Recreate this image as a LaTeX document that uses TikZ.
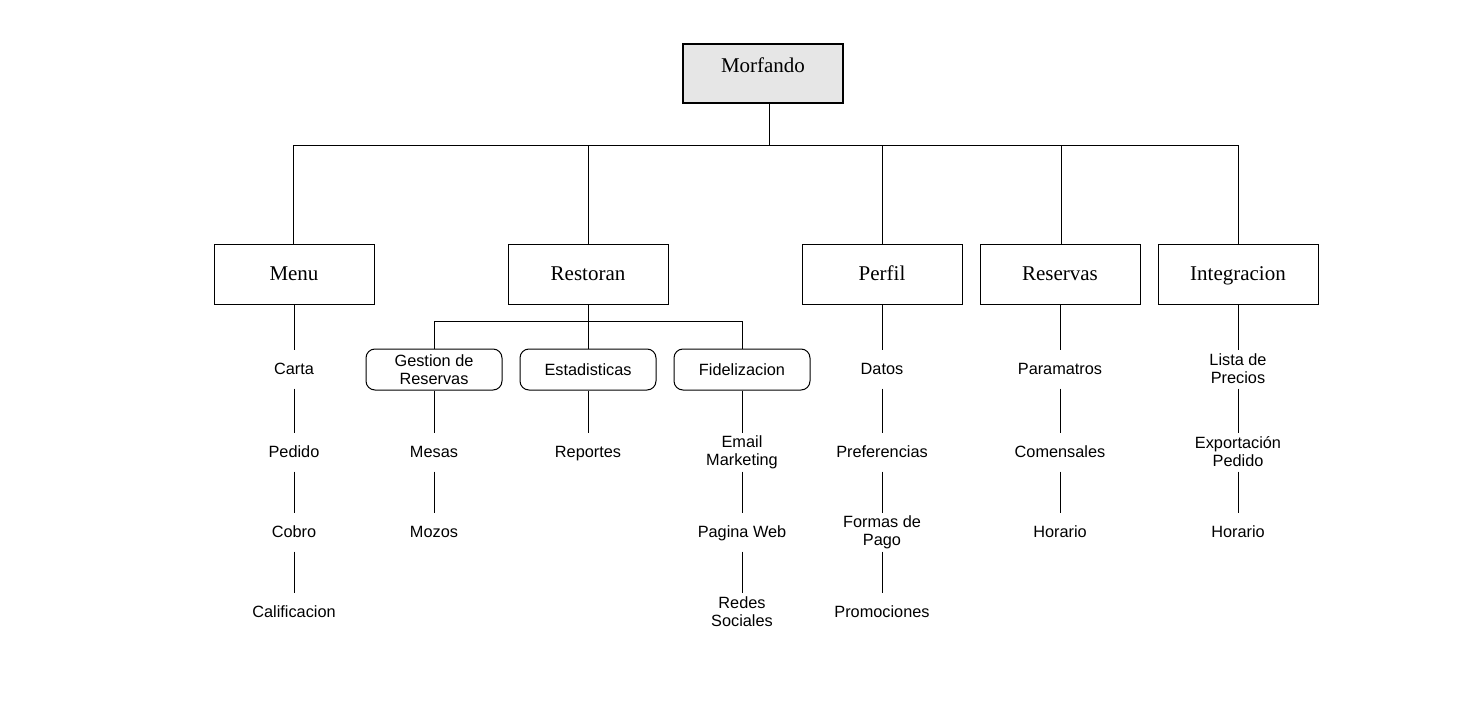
\documentclass[tikz,border=0pt]{standalone}
\usepackage{fontspec}
\setmainfont{Liberation Sans}
\newfontfamily\morffont{Liberation Serif}
\begin{document}
\begin{tikzpicture}[x=1pt,y=-1pt,
  line width=1pt,
  rootbox/.style={draw, line width=2pt, fill=rootgray, minimum width=160pt,
    inner ysep=0pt, text height=28.5pt, text depth=30.5pt, font=\morffont\fontsize{21}{23}\selectfont},
  topbox/.style={draw, minimum width=160pt, minimum height=60pt, inner sep=0pt,
    text height=15pt, text depth=3pt, font=\morffont\fontsize{21}{23}\selectfont},
  subbox/.style={draw, rounded corners=9pt, minimum width=136pt, minimum height=41pt, inner sep=0pt,
    align=center, font=\fontsize{16.3}{18}\selectfont},
  subone/.style={subbox, text height=13.5pt, text depth=2pt},
  leaf/.style={minimum height=38pt, inner sep=0pt, align=center, font=\fontsize{16.3}{18}\selectfont},
  leafone/.style={leaf, text height=13.5pt, text depth=2pt},
  conn/.style={draw, line width=1pt}
]
\definecolor{rootgray}{HTML}{E6E6E6}
\useasboundingbox (0,0) rectangle (1468,725);
\fill[white] (0,0) rectangle (1468,725);

% root
\node[rootbox] (root) at (763,73.5) {Morfando};
\coordinate (rj) at (769,145);

% level 2
\node[topbox] (menu)  at (294,274) {Menu};
\node[topbox] (rest)  at (588,274) {Restoran};
\node[topbox] (perf)  at (882,274) {Perfil};
\node[topbox] (resv)  at (1060,274) {Reservas};
\node[topbox] (integ) at (1238,274) {Integracion};

\coordinate (bm) at (293,145);
\coordinate (bv) at (1061,145);

\draw[conn] (root.south -| rj) -- (rj);
\draw[conn] (bm |- menu.north) |- (rj);
\draw[conn] (rj) -| (integ.north);
\draw[conn] (rest.north) -- (rest.north |- rj);
\draw[conn] (perf.north) -- (perf.north |- rj);
\draw[conn] (bv |- resv.north) -- (bv);

% Restoran sub-boxes
\node[subbox] (gest) at (434,369.5) {Gestion de\\Reservas};
\node[subone] (esta) at (588,369.5) {Estadisticas};
\node[subone] (fide) at (742,369.5) {Fidelizacion};
\coordinate (rb) at (588,321);
\draw[conn] (rest.south) -- (rb);
\draw[conn] (rb) -| (gest.north);
\draw[conn] (rb) -| (fide.north);
\draw[conn] (rb) -- (esta.north);

% Menu column
\node[leafone] (carta) at (294,369) {Carta};
\node[leafone] (pedi)  at (294,452) {Pedido};
\node[leafone] (cobro) at (294,532) {Cobro};
\node[leafone] (calif) at (294,612) {Calificacion};
\draw[conn] (menu.south) -- (carta.north);
\draw[conn] (carta.south) -- (pedi.north);
\draw[conn] (pedi.south) -- (cobro.north);
\draw[conn] (cobro.south) -- (calif.north);

% Gestion column
\node[leafone] (mesas) at (434,452) {Mesas};
\node[leafone] (mozos) at (434,532) {Mozos};
\draw[conn] (gest.south) -- (mesas.north);
\draw[conn] (mesas.south) -- (mozos.north);

% Estadisticas column
\node[leafone] (repo) at (588,452) {Reportes};
\draw[conn] (esta.south) -- (repo.north);

% Fidelizacion column
\node[leaf] (email) at (742,452) {Email\\Marketing};
\node[leafone] (pweb)  at (742,532) {Pagina Web};
\node[leaf] (redes) at (742,612) {Redes\\Sociales};
\draw[conn] (fide.south) -- (email.north);
\draw[conn] (email.south) -- (pweb.north);
\draw[conn] (pweb.south) -- (redes.north);

% Perfil column
\node[leafone] (datos) at (882,369) {Datos};
\node[leafone] (pref)  at (882,452) {Preferencias};
\node[leaf] (formas) at (882,532) {Formas de\\Pago};
\node[leafone] (promo) at (882,612) {Promociones};
\draw[conn] (perf.south) -- (datos.north);
\draw[conn] (datos.south) -- (pref.north);
\draw[conn] (pref.south) -- (formas.north);
\draw[conn] (formas.south) -- (promo.north);

% Reservas column
\node[leafone] (param) at (1060,369) {Paramatros};
\node[leafone] (comen) at (1060,452) {Comensales};
\node[leafone] (hor1)  at (1060,532) {Horario};
\draw[conn] (resv.south) -- (param.north);
\draw[conn] (param.south) -- (comen.north);
\draw[conn] (comen.south) -- (hor1.north);

% Integracion column
\node[leaf] (lista) at (1238,369) {Lista de\\Precios};
\node[leaf] (expo)  at (1238,452) {Exportación\\Pedido};
\node[leafone] (hor2)  at (1238,532) {Horario};
\draw[conn] (integ.south) -- (lista.north);
\draw[conn] (lista.south) -- (expo.north);
\draw[conn] (expo.south) -- (hor2.north);
\end{tikzpicture}
\end{document}
